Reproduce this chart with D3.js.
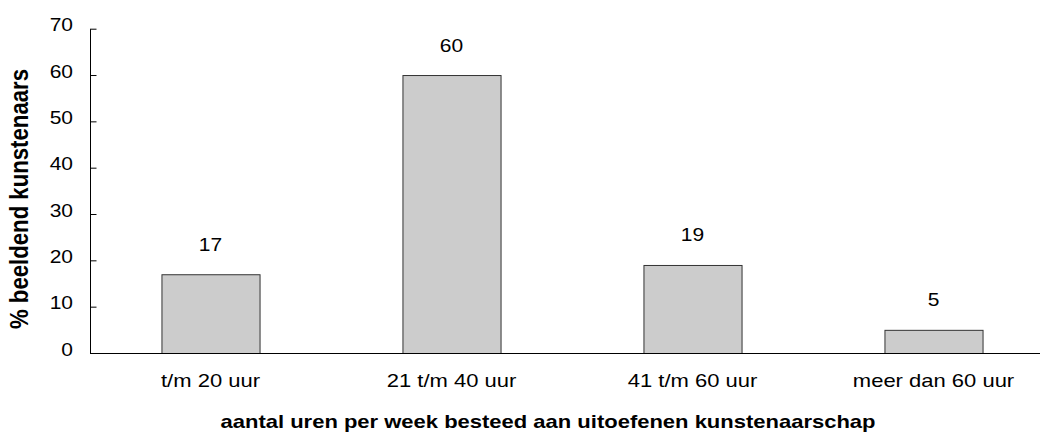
<!DOCTYPE html>
<html><head><meta charset="utf-8">
<script src="https://cdn.jsdelivr.net/npm/d3@7"></script>
<style>body{margin:0;background:#fff}svg{display:block;font-family:"Liberation Sans",Arial,Helvetica,sans-serif}</style>
</head><body>
<svg id="c" width="1040" height="432"></svg>
<script>
const categories = ["t/m 20 uur", "21 t/m 40 uur", "41 t/m 60 uur", "meer dan 60 uur"];
const values = [17, 60, 19, 5];
const yTicks = [0, 10, 20, 30, 40, 50, 60, 70];
const yTitle = "% beeldend kunstenaars";
const xTitle = "aantal uren per week besteed aan uitoefenen kunstenaarschap";

(function () {
const svg = d3.select("#c");
const mLeft = 90, mRight = 1054, mTop = 28.7, mBottom = 353;
const SY = 0.87; // vertical squash of the glyphs in the reference
const x = d3.scaleBand().domain(categories).range([mLeft, mRight]).paddingInner(0.593).paddingOuter(0.2965);
const y = d3.scaleLinear().domain([0, 70]).range([mBottom, mTop]);

// y axis
const yAxis = svg.append("g").attr("transform", `translate(${mLeft},0)`)
  .call(d3.axisLeft(y).tickValues(yTicks).tickSize(-6.5).tickSizeOuter(0));
yAxis.select(".domain").attr("stroke", "#000");
yAxis.selectAll(".tick line").attr("stroke", "#000");
yAxis.selectAll(".tick text")
  .attr("x", -17).attr("y", 2 / SY).attr("dy", null)
  .attr("transform", `scale(1,${SY})`)
  .attr("font-size", 21).attr("fill", "#000")
  .attr("font-family", "Liberation Sans, Arial, sans-serif");

// bars
svg.append("g").selectAll("rect").data(values).join("rect")
  .attr("x", (d, i) => x(categories[i]) + 0.5)
  .attr("y", d => y(d) + 0.5)
  .attr("width", x.bandwidth())
  .attr("height", d => y(0) - y(d))
  .attr("fill", "#cccccc").attr("stroke", "#333").attr("stroke-width", 1);

// x axis line
svg.append("line").attr("x1", mLeft).attr("x2", 1040).attr("y1", mBottom + 0.5).attr("y2", mBottom + 0.5)
  .attr("stroke", "#000");

// value labels
svg.append("g").selectAll("text").data(values).join("text")
  .attr("transform", (d, i) => `translate(${x(categories[i]) + x.bandwidth() / 2},${y(d) - 23.5}) scale(1,${SY})`)
  .attr("text-anchor", "middle").attr("font-size", 21).attr("fill", "#000")
  .text(d => d);

// category labels
svg.append("g").selectAll("text").data(categories).join("text")
  .attr("transform", d => `translate(${x(d) + x.bandwidth() / 2},387) scale(1,${SY})`)
  .attr("text-anchor", "middle").attr("font-size", 22).attr("fill", "#000")
  .text(d => d);

// titles
svg.append("text").attr("transform", `translate(548,428) scale(1,${SY})`).attr("text-anchor", "middle")
  .attr("font-size", 22).attr("font-weight", "bold").attr("fill", "#000").text(xTitle);
svg.append("text").attr("transform", `translate(28,199) scale(1,${SY}) rotate(-90)`).attr("text-anchor", "middle")
  .attr("font-size", 25.5).attr("font-weight", "bold").attr("fill", "#000").text(yTitle);
})();
</script>
</body></html>
